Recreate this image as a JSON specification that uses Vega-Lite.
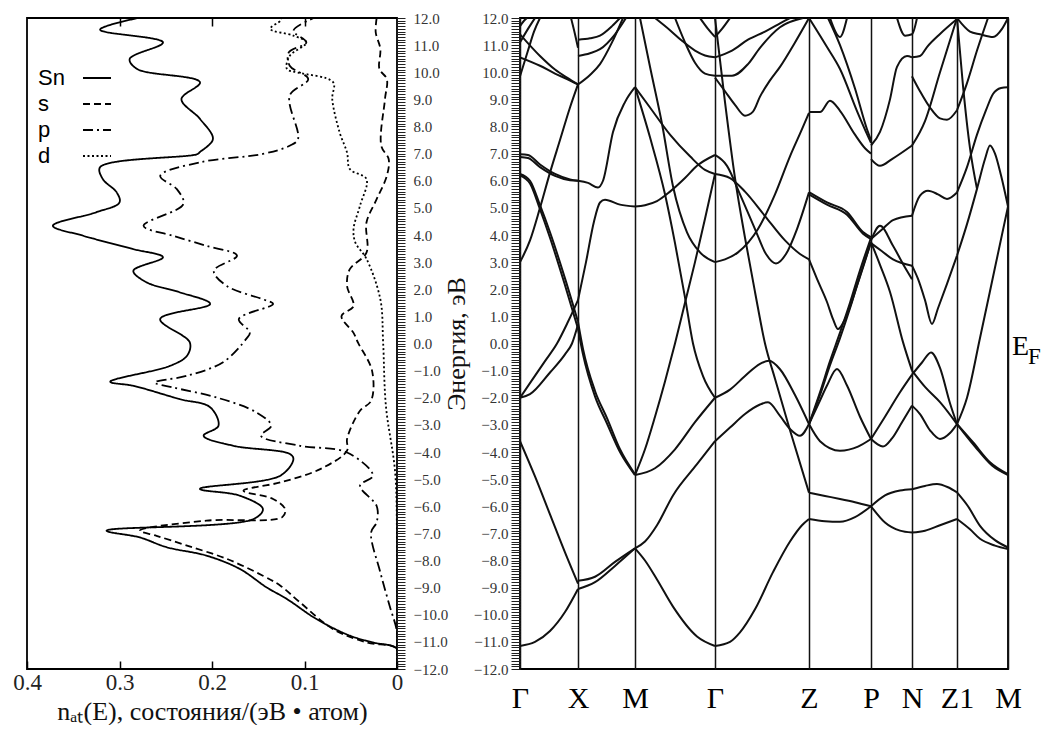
{
"$schema": "https://vega.github.io/schema/vega-lite/v6.json",
"background": "white",
"padding": {"left": 11, "top": 10, "right": 0, "bottom": 0},
"bounds": "flush",
"spacing": 123,
"config": {
  "view": {"stroke": "black", "strokeWidth": 1.8},
  "axis": {"labelFont": "Liberation Serif", "titleFont": "Liberation Serif", "titleFontWeight": "normal", "domain": false, "grid": false, "tickColor": "#222", "labelColor": "#333", "titleColor": "#111", "labelFlush": false, "labelOverlap": false}
},
"datasets": {
"dos": [
{"s":"Sn","E":12.0,"d":0.28},{"s":"Sn","E":11.57,"d":0.321},{"s":"Sn","E":11.1,"d":0.253},{"s":"Sn","E":10.49,"d":0.289},{"s":"Sn","E":10.12,"d":0.281},{"s":"Sn","E":9.63,"d":0.213},{"s":"Sn","E":9.01,"d":0.233},{"s":"Sn","E":8.28,"d":0.213},{"s":"Sn","E":7.54,"d":0.199},{"s":"Sn","E":7.06,"d":0.213},{"s":"Sn","E":6.98,"d":0.216},{"s":"Sn","E":6.5,"d":0.321},{"s":"Sn","E":6.06,"d":0.318},{"s":"Sn","E":5.57,"d":0.303},{"s":"Sn","E":5.2,"d":0.3},{"s":"Sn","E":4.84,"d":0.325},{"s":"Sn","E":4.34,"d":0.372},{"s":"Sn","E":3.97,"d":0.339},{"s":"Sn","E":3.48,"d":0.285},{"s":"Sn","E":3.18,"d":0.253},{"s":"Sn","E":2.68,"d":0.285},{"s":"Sn","E":2.26,"d":0.271},{"s":"Sn","E":1.89,"d":0.235},{"s":"Sn","E":1.46,"d":0.202},{"s":"Sn","E":0.9,"d":0.256},{"s":"Sn","E":0.04,"d":0.224},{"s":"Sn","E":-0.45,"d":0.227},{"s":"Sn","E":-0.82,"d":0.245},{"s":"Sn","E":-1.41,"d":0.31},{"s":"Sn","E":-1.56,"d":0.285},{"s":"Sn","E":-2.05,"d":0.235},{"s":"Sn","E":-2.35,"d":0.202},{"s":"Sn","E":-3.03,"d":0.193},{"s":"Sn","E":-3.4,"d":0.209},{"s":"Sn","E":-3.77,"d":0.177},{"s":"Sn","E":-4.07,"d":0.116},{"s":"Sn","E":-4.26,"d":0.112},{"s":"Sn","E":-4.87,"d":0.126},{"s":"Sn","E":-5.36,"d":0.213},{"s":"Sn","E":-5.61,"d":0.17},{"s":"Sn","E":-6.1,"d":0.145},{"s":"Sn","E":-6.47,"d":0.155},{"s":"Sn","E":-6.9,"d":0.314},{"s":"Sn","E":-7.15,"d":0.278},{"s":"Sn","E":-7.51,"d":0.249},{"s":"Sn","E":-7.82,"d":0.206},{"s":"Sn","E":-8.31,"d":0.17},{"s":"Sn","E":-8.99,"d":0.141},{"s":"Sn","E":-9.42,"d":0.119},{"s":"Sn","E":-10.16,"d":0.087},{"s":"Sn","E":-10.77,"d":0.051},{"s":"Sn","E":-11.02,"d":0.026},{"s":"Sn","E":-11.26,"d":0.0},{"s":"Sn","E":-12.0,"d":0.0},
{"s":"s","E":12.0,"d":0.022},{"s":"s","E":11.47,"d":0.023},{"s":"s","E":10.86,"d":0.018},{"s":"s","E":10.12,"d":0.019},{"s":"s","E":9.75,"d":0.011},{"s":"s","E":9.01,"d":0.013},{"s":"s","E":7.29,"d":0.017},{"s":"s","E":6.8,"d":0.009},{"s":"s","E":6.18,"d":0.011},{"s":"s","E":5.32,"d":0.022},{"s":"s","E":4.46,"d":0.033},{"s":"s","E":3.35,"d":0.033},{"s":"s","E":2.74,"d":0.051},{"s":"s","E":2.12,"d":0.054},{"s":"s","E":1.38,"d":0.047},{"s":"s","E":1.01,"d":0.06},{"s":"s","E":0.39,"d":0.047},{"s":"s","E":0.02,"d":0.042},{"s":"s","E":-1.0,"d":0.027},{"s":"s","E":-2.11,"d":0.028},{"s":"s","E":-2.48,"d":0.04},{"s":"s","E":-3.52,"d":0.054},{"s":"s","E":-3.95,"d":0.054},{"s":"s","E":-4.63,"d":0.083},{"s":"s","E":-5.12,"d":0.126},{"s":"s","E":-5.43,"d":0.166},{"s":"s","E":-5.73,"d":0.134},{"s":"s","E":-6.1,"d":0.121},{"s":"s","E":-6.4,"d":0.124},{"s":"s","E":-6.53,"d":0.206},{"s":"s","E":-6.9,"d":0.278},{"s":"s","E":-7.09,"d":0.26},{"s":"s","E":-7.45,"d":0.227},{"s":"s","E":-7.94,"d":0.184},{"s":"s","E":-8.56,"d":0.145},{"s":"s","E":-8.93,"d":0.126},{"s":"s","E":-9.54,"d":0.105},{"s":"s","E":-10.53,"d":0.069},{"s":"s","E":-11.02,"d":0.033},{"s":"s","E":-11.26,"d":0.0},{"s":"s","E":-12.0,"d":0.0},
{"s":"p","E":12.0,"d":0.09},{"s":"p","E":11.53,"d":0.112},{"s":"p","E":11.1,"d":0.098},{"s":"p","E":10.73,"d":0.117},{"s":"p","E":10.24,"d":0.116},{"s":"p","E":9.75,"d":0.096},{"s":"p","E":9.14,"d":0.116},{"s":"p","E":7.54,"d":0.107},{"s":"p","E":7.29,"d":0.116},{"s":"p","E":6.99,"d":0.145},{"s":"p","E":6.68,"d":0.213},{"s":"p","E":6.18,"d":0.256},{"s":"p","E":5.69,"d":0.238},{"s":"p","E":5.14,"d":0.231},{"s":"p","E":4.34,"d":0.274},{"s":"p","E":3.97,"d":0.242},{"s":"p","E":3.6,"d":0.206},{"s":"p","E":3.24,"d":0.173},{"s":"p","E":2.68,"d":0.198},{"s":"p","E":2.12,"d":0.184},{"s":"p","E":1.63,"d":0.145},{"s":"p","E":1.46,"d":0.134},{"s":"p","E":0.9,"d":0.171},{"s":"p","E":0.41,"d":0.159},{"s":"p","E":0.17,"d":0.163},{"s":"p","E":-0.69,"d":0.188},{"s":"p","E":-1.19,"d":0.227},{"s":"p","E":-1.44,"d":0.262},{"s":"p","E":-1.62,"d":0.242},{"s":"p","E":-1.99,"d":0.195},{"s":"p","E":-2.54,"d":0.152},{"s":"p","E":-3.03,"d":0.136},{"s":"p","E":-3.4,"d":0.147},{"s":"p","E":-3.77,"d":0.105},{"s":"p","E":-4.02,"d":0.054},{"s":"p","E":-4.87,"d":0.026},{"s":"p","E":-5.24,"d":0.04},{"s":"p","E":-5.99,"d":0.022},{"s":"p","E":-6.59,"d":0.022},{"s":"p","E":-6.96,"d":0.028},{"s":"p","E":-8.44,"d":0.018},{"s":"p","E":-9.67,"d":0.008},{"s":"p","E":-10.65,"d":0.0},{"s":"p","E":-12.0,"d":0.0},
{"s":"d","E":12.0,"d":0.125},{"s":"d","E":11.9,"d":0.126},{"s":"d","E":11.6,"d":0.137},{"s":"d","E":11.35,"d":0.112},{"s":"d","E":11.1,"d":0.098},{"s":"d","E":10.6,"d":0.116},{"s":"d","E":10.12,"d":0.119},{"s":"d","E":9.99,"d":0.107},{"s":"d","E":9.63,"d":0.069},{"s":"d","E":9.01,"d":0.07},{"s":"d","E":7.78,"d":0.062},{"s":"d","E":7.04,"d":0.054},{"s":"d","E":6.43,"d":0.051},{"s":"d","E":6.06,"d":0.033},{"s":"d","E":5.08,"d":0.04},{"s":"d","E":4.22,"d":0.047},{"s":"d","E":3.72,"d":0.045},{"s":"d","E":3.12,"d":0.033},{"s":"d","E":1.63,"d":0.018},{"s":"d","E":0.04,"d":0.015},{"s":"d","E":-2.3,"d":0.012},{"s":"d","E":-4.75,"d":0.002},{"s":"d","E":-7.2,"d":0.0},{"s":"d","E":-12.0,"d":0.0}
],
"bands": [
{"b":"g1","u":0,"E":-11.15},{"b":"g1","u":15,"E":-11.0},{"b":"g1","u":30,"E":-10.6},{"b":"g1","u":45,"E":-9.9},{"b":"g1","u":58,"E":-9.05},
{"b":"g2","u":0,"E":-3.6},{"b":"g2","u":15,"E":-4.9},{"b":"g2","u":30,"E":-6.3},{"b":"g2","u":45,"E":-7.7},{"b":"g2","u":58,"E":-8.85},
{"b":"g3","u":0,"E":-2.0},{"b":"g3","u":12,"E":-1.35},{"b":"g3","u":25,"E":-0.65},{"b":"g3","u":37,"E":0.0},{"b":"g3","u":48,"E":0.8},{"b":"g3","u":58,"E":1.6},
{"b":"g4","u":0,"E":-2.0},{"b":"g4","u":10,"E":-1.87},{"b":"g4","u":30,"E":-1.07},{"b":"g4","u":45,"E":-0.4},{"b":"g4","u":52,"E":0.0},{"b":"g4","u":58,"E":0.7},
{"b":"g5a","u":0,"E":6.25},{"b":"g5a","u":10,"E":6.0},{"b":"g5a","u":20,"E":5.1},{"b":"g5a","u":30,"E":4.1},{"b":"g5a","u":45,"E":2.4},{"b":"g5a","u":58,"E":0.8},
{"b":"g5b","u":0,"E":6.2},{"b":"g5b","u":10,"E":5.9},{"b":"g5b","u":20,"E":4.95},{"b":"g5b","u":30,"E":3.9},{"b":"g5b","u":45,"E":2.15},{"b":"g5b","u":58,"E":0.55},
{"b":"g6","u":0,"E":3.0},{"b":"g6","u":10,"E":3.8},{"b":"g6","u":20,"E":5.0},{"b":"g6","u":30,"E":6.3},{"b":"g6","u":40,"E":7.5},{"b":"g6","u":50,"E":8.7},{"b":"g6","u":58,"E":9.55},
{"b":"g7a","u":0,"E":6.98},{"b":"g7a","u":8,"E":6.95},{"b":"g7a","u":20,"E":6.6},{"b":"g7a","u":35,"E":6.25},{"b":"g7a","u":50,"E":6.05},{"b":"g7a","u":58,"E":6.0},
{"b":"g7b","u":0,"E":6.88},{"b":"g7b","u":8,"E":6.84},{"b":"g7b","u":20,"E":6.5},{"b":"g7b","u":35,"E":6.18},{"b":"g7b","u":50,"E":6.02},{"b":"g7b","u":58,"E":6.0},
{"b":"g8","u":0,"E":9.85},{"b":"g8","u":8,"E":10.8},{"b":"g8","u":14,"E":11.5},{"b":"g8","u":20,"E":12.0},
{"b":"g9","u":0,"E":10.55},{"b":"g9","u":20,"E":10.24},{"b":"g9","u":35,"E":9.95},{"b":"g9","u":47,"E":9.75},{"b":"g9","u":58,"E":9.55},
{"b":"g10","u":0,"E":11.4},{"b":"g10","u":20,"E":10.6},{"b":"g10","u":35,"E":10.1},{"b":"g10","u":47,"E":9.8},{"b":"g10","u":58,"E":9.55},
{"b":"g11","u":0,"E":11.1},{"b":"g11","u":8,"E":11.6},{"b":"g11","u":15,"E":12.0},
{"b":"g12","u":0,"E":11.7},{"b":"g12","u":4,"E":11.9},{"b":"g12","u":7,"E":12.0},
{"b":"g13","u":51,"E":12.0},{"b":"g13","u":55,"E":11.4},{"b":"g13","u":58,"E":10.9},
{"b":"x1","u":58,"E":-9.05},{"b":"x1","u":75,"E":-8.8},{"b":"x1","u":95,"E":-8.2},{"b":"x1","u":115,"E":-7.55},
{"b":"x2","u":58,"E":-8.75},{"b":"x2","u":75,"E":-8.6},{"b":"x2","u":95,"E":-8.05},{"b":"x2","u":115,"E":-7.55},
{"b":"x3a","u":58,"E":0.8},{"b":"x3a","u":63,"E":-0.2},{"b":"x3a","u":75,"E":-1.75},{"b":"x3a","u":87,"E":-2.75},{"b":"x3a","u":100,"E":-3.9},{"b":"x3a","u":115,"E":-4.82},
{"b":"x3b","u":58,"E":0.55},{"b":"x3b","u":63,"E":-0.4},{"b":"x3b","u":75,"E":-1.95},{"b":"x3b","u":87,"E":-2.95},{"b":"x3b","u":100,"E":-4.0},{"b":"x3b","u":115,"E":-4.85},
{"b":"x4","u":58,"E":1.6},{"b":"x4","u":66,"E":3.0},{"b":"x4","u":74,"E":4.5},{"b":"x4","u":80,"E":5.2},{"b":"x4","u":85,"E":5.3},{"b":"x4","u":100,"E":5.12},{"b":"x4","u":115,"E":5.05},
{"b":"x5","u":58,"E":6.0},{"b":"x5","u":68,"E":5.92},{"b":"x5","u":78,"E":5.75},{"b":"x5","u":83,"E":6.0},{"b":"x5","u":93,"E":7.8},{"b":"x5","u":105,"E":8.9},{"b":"x5","u":115,"E":9.45},
{"b":"x6","u":58,"E":9.55},{"b":"x6","u":70,"E":9.9},{"b":"x6","u":80,"E":10.3},{"b":"x6","u":92,"E":11.1},{"b":"x6","u":103,"E":12.0},
{"b":"x7","u":58,"E":10.6},{"b":"x7","u":70,"E":10.7},{"b":"x7","u":80,"E":10.85},{"b":"x7","u":95,"E":11.4},{"b":"x7","u":106,"E":12.0},
{"b":"x8","u":58,"E":11.2},{"b":"x8","u":70,"E":11.25},{"b":"x8","u":80,"E":11.35},{"b":"x8","u":92,"E":11.7},{"b":"x8","u":100,"E":12.0},
{"b":"m1","u":115,"E":-7.55},{"b":"m1","u":125,"E":-8.0},{"b":"m1","u":137,"E":-8.7},{"b":"m1","u":153,"E":-9.7},{"b":"m1","u":177,"E":-10.8},{"b":"m1","u":195,"E":-11.15},
{"b":"m2","u":115,"E":-7.55},{"b":"m2","u":125,"E":-7.3},{"b":"m2","u":137,"E":-6.7},{"b":"m2","u":153,"E":-5.6},{"b":"m2","u":177,"E":-4.45},{"b":"m2","u":195,"E":-3.6},
{"b":"m3","u":115,"E":-4.85},{"b":"m3","u":135,"E":-4.6},{"b":"m3","u":155,"E":-3.9},{"b":"m3","u":175,"E":-2.9},{"b":"m3","u":195,"E":-2.0},
{"b":"m4","u":115,"E":-4.85},{"b":"m4","u":125,"E":-3.9},{"b":"m4","u":135,"E":-2.7},{"b":"m4","u":145,"E":-1.4},{"b":"m4","u":155,"E":0.0},{"b":"m4","u":165,"E":1.5},{"b":"m4","u":175,"E":3.0},{"b":"m4","u":185,"E":4.6},{"b":"m4","u":195,"E":6.25},
{"b":"m5","u":115,"E":5.05},{"b":"m5","u":125,"E":5.1},{"b":"m5","u":137,"E":5.25},{"b":"m5","u":150,"E":5.6},{"b":"m5","u":165,"E":6.1},{"b":"m5","u":177,"E":6.55},{"b":"m5","u":195,"E":6.95},
{"b":"m6","u":115,"E":9.45},{"b":"m6","u":130,"E":8.7},{"b":"m6","u":150,"E":7.7},{"b":"m6","u":170,"E":6.9},{"b":"m6","u":185,"E":6.4},{"b":"m6","u":195,"E":6.25},
{"b":"m7","u":120,"E":12.0},{"b":"m7","u":130,"E":10.2},{"b":"m7","u":142,"E":8.1},{"b":"m7","u":153,"E":5.8},{"b":"m7","u":167,"E":4.1},{"b":"m7","u":180,"E":3.36},{"b":"m7","u":195,"E":3.0},
{"b":"m8","u":115,"E":9.45},{"b":"m8","u":130,"E":7.6},{"b":"m8","u":145,"E":5.5},{"b":"m8","u":155,"E":3.7},{"b":"m8","u":165,"E":1.7},{"b":"m8","u":173,"E":0.0},{"b":"m8","u":183,"E":-1.2},{"b":"m8","u":195,"E":-2.0},
{"b":"m10","u":135,"E":12.0},{"b":"m10","u":150,"E":11.55},{"b":"m10","u":162,"E":11.16},{"b":"m10","u":175,"E":10.8},{"b":"m10","u":185,"E":10.62},{"b":"m10","u":195,"E":10.55},
{"b":"m11","u":155,"E":12.0},{"b":"m11","u":165,"E":11.1},{"b":"m11","u":175,"E":10.35},{"b":"m11","u":185,"E":9.95},{"b":"m11","u":195,"E":9.87},
{"b":"m12","u":180,"E":12.0},{"b":"m12","u":188,"E":11.6},{"b":"m12","u":195,"E":11.3},
{"b":"z1","u":195,"E":-11.15},{"b":"z1","u":210,"E":-11.0},{"b":"z1","u":220,"E":-10.65},{"b":"z1","u":235,"E":-9.8},{"b":"z1","u":253,"E":-8.43},{"b":"z1","u":270,"E":-7.3},{"b":"z1","u":282,"E":-6.7},{"b":"z1","u":289,"E":-6.47},
{"b":"z2","u":195,"E":-3.6},{"b":"z2","u":210,"E":-3.1},{"b":"z2","u":225,"E":-2.6},{"b":"z2","u":240,"E":-2.25},{"b":"z2","u":248,"E":-2.17},{"b":"z2","u":260,"E":-2.67},{"b":"z2","u":270,"E":-3.15},{"b":"z2","u":280,"E":-3.4},{"b":"z2","u":289,"E":-2.97},
{"b":"z3","u":195,"E":-2.0},{"b":"z3","u":210,"E":-1.7},{"b":"z3","u":225,"E":-1.2},{"b":"z3","u":240,"E":-0.75},{"b":"z3","u":249,"E":-0.64},{"b":"z3","u":260,"E":-0.95},{"b":"z3","u":275,"E":-1.9},{"b":"z3","u":289,"E":-2.97},
{"b":"z4","u":195,"E":12.0},{"b":"z4","u":205,"E":8.9},{"b":"z4","u":215,"E":6.1},{"b":"z4","u":225,"E":3.9},{"b":"z4","u":235,"E":1.9},{"b":"z4","u":245,"E":0.0},{"b":"z4","u":255,"E":-1.3},{"b":"z4","u":270,"E":-3.2},{"b":"z4","u":289,"E":-5.5},
{"b":"z5","u":195,"E":3.0},{"b":"z5","u":205,"E":3.1},{"b":"z5","u":218,"E":3.36},{"b":"z5","u":238,"E":4.22},{"b":"z5","u":255,"E":5.5},{"b":"z5","u":270,"E":6.9},{"b":"z5","u":282,"E":7.9},{"b":"z5","u":289,"E":8.5},
{"b":"z6","u":195,"E":6.95},{"b":"z6","u":207,"E":6.55},{"b":"z6","u":220,"E":5.5},{"b":"z6","u":235,"E":4.22},{"b":"z6","u":246,"E":3.3},{"b":"z6","u":256,"E":2.95},{"b":"z6","u":266,"E":3.3},{"b":"z6","u":277,"E":4.22},{"b":"z6","u":289,"E":5.57},
{"b":"z7","u":195,"E":6.25},{"b":"z7","u":210,"E":6.1},{"b":"z7","u":225,"E":5.6},{"b":"z7","u":245,"E":4.7},{"b":"z7","u":265,"E":3.8},{"b":"z7","u":280,"E":3.3},{"b":"z7","u":289,"E":3.1},
{"b":"z8","u":195,"E":9.8},{"b":"z8","u":205,"E":9.3},{"b":"z8","u":215,"E":8.8},{"b":"z8","u":225,"E":8.4},{"b":"z8","u":233,"E":8.55},{"b":"z8","u":240,"E":9.1},{"b":"z8","u":250,"E":9.7},{"b":"z8","u":260,"E":10.2},{"b":"z8","u":275,"E":11.1},{"b":"z8","u":289,"E":12.0},
{"b":"z9","u":195,"E":9.87},{"b":"z9","u":212,"E":9.87},{"b":"z9","u":228,"E":10.3},{"b":"z9","u":240,"E":10.9},{"b":"z9","u":260,"E":11.66},{"b":"z9","u":283,"E":12.0},
{"b":"z10","u":195,"E":10.55},{"b":"z10","u":212,"E":10.8},{"b":"z10","u":228,"E":11.2},{"b":"z10","u":245,"E":11.5},{"b":"z10","u":260,"E":11.8},{"b":"z10","u":270,"E":12.0},
{"b":"z11","u":195,"E":11.3},{"b":"z11","u":202,"E":11.6},{"b":"z11","u":210,"E":12.0},
{"b":"p1","u":289,"E":-6.47},{"b":"p1","u":305,"E":-6.55},{"b":"p1","u":320,"E":-6.57},{"b":"p1","u":335,"E":-6.4},{"b":"p1","u":351,"E":-6.0},
{"b":"p2","u":289,"E":-5.5},{"b":"p2","u":305,"E":-5.62},{"b":"p2","u":320,"E":-5.73},{"b":"p2","u":335,"E":-5.85},{"b":"p2","u":351,"E":-6.0},
{"b":"p3","u":289,"E":-2.97},{"b":"p3","u":300,"E":-2.1},{"b":"p3","u":307,"E":-1.55},{"b":"p3","u":317,"E":-0.94},{"b":"p3","u":327,"E":-1.55},{"b":"p3","u":340,"E":-2.7},{"b":"p3","u":351,"E":-3.52},
{"b":"p4","u":289,"E":-2.97},{"b":"p4","u":300,"E":-3.6},{"b":"p4","u":320,"E":-3.95},{"b":"p4","u":338,"E":-3.8},{"b":"p4","u":351,"E":-3.52},
{"b":"p5a","u":289,"E":-2.97},{"b":"p5a","u":300,"E":-1.9},{"b":"p5a","u":310,"E":-0.8},{"b":"p5a","u":320,"E":0.2},{"b":"p5a","u":330,"E":1.3},{"b":"p5a","u":340,"E":2.5},{"b":"p5a","u":351,"E":3.75},
{"b":"p5b","u":289,"E":-2.97},{"b":"p5b","u":300,"E":-1.8},{"b":"p5b","u":310,"E":-0.65},{"b":"p5b","u":320,"E":0.4},{"b":"p5b","u":330,"E":1.5},{"b":"p5b","u":340,"E":2.7},{"b":"p5b","u":351,"E":3.9},
{"b":"p6","u":289,"E":3.1},{"b":"p6","u":297,"E":2.38},{"b":"p6","u":307,"E":1.53},{"b":"p6","u":313,"E":0.9},{"b":"p6","u":318,"E":0.53},{"b":"p6","u":325,"E":0.9},{"b":"p6","u":337,"E":2.13},{"b":"p6","u":351,"E":3.74},
{"b":"p7a","u":289,"E":5.58},{"b":"p7a","u":307,"E":5.2},{"b":"p7a","u":327,"E":4.85},{"b":"p7a","u":343,"E":4.11},{"b":"p7a","u":351,"E":3.92},
{"b":"p7b","u":289,"E":5.5},{"b":"p7b","u":307,"E":5.12},{"b":"p7b","u":327,"E":4.75},{"b":"p7b","u":343,"E":4.05},{"b":"p7b","u":351,"E":3.85},
{"b":"p8","u":289,"E":8.53},{"b":"p8","u":300,"E":8.53},{"b":"p8","u":310,"E":8.95},{"b":"p8","u":320,"E":8.58},{"b":"p8","u":335,"E":7.7},{"b":"p8","u":345,"E":7.2},{"b":"p8","u":351,"E":7.0},
{"b":"p9a","u":289,"E":12.0},{"b":"p9a","u":307,"E":10.93},{"b":"p9a","u":320,"E":10.12},{"b":"p9a","u":337,"E":8.57},{"b":"p9a","u":347,"E":7.72},{"b":"p9a","u":351,"E":7.4},
{"b":"p9b","u":308,"E":12.0},{"b":"p9b","u":320,"E":11.0},{"b":"p9b","u":335,"E":9.4},{"b":"p9b","u":347,"E":7.9},{"b":"p9b","u":351,"E":7.5},
{"b":"p10","u":310,"E":12.0},{"b":"p10","u":320,"E":11.3},{"b":"p10","u":327,"E":12.0},
{"b":"n1","u":351,"E":-6.0},{"b":"n1","u":365,"E":-5.6},{"b":"n1","u":380,"E":-5.42},{"b":"n1","u":392,"E":-5.37},
{"b":"n2","u":351,"E":-6.0},{"b":"n2","u":365,"E":-6.6},{"b":"n2","u":380,"E":-6.9},{"b":"n2","u":392,"E":-6.97},
{"b":"n3","u":351,"E":-3.52},{"b":"n3","u":357,"E":-3.7},{"b":"n3","u":363,"E":-3.8},{"b":"n3","u":372,"E":-3.5},{"b":"n3","u":382,"E":-2.9},{"b":"n3","u":392,"E":-2.29},
{"b":"n4","u":351,"E":-3.52},{"b":"n4","u":365,"E":-2.7},{"b":"n4","u":380,"E":-1.8},{"b":"n4","u":392,"E":-1.15},
{"b":"n5","u":351,"E":3.74},{"b":"n5","u":360,"E":2.9},{"b":"n5","u":370,"E":1.9},{"b":"n5","u":383,"E":0.05},{"b":"n5","u":392,"E":-1.0},
{"b":"n5b","u":392,"E":-1.0},{"b":"n5b","u":405,"E":-1.6},{"b":"n5b","u":420,"E":-2.16},{"b":"n5b","u":437,"E":-2.97},
{"b":"n6","u":392,"E":-1.15},{"b":"n6","u":402,"E":-0.7},{"b":"n6","u":411,"E":-0.33},{"b":"n6","u":420,"E":-0.9},{"b":"n6","u":430,"E":-2.2},{"b":"n6","u":437,"E":-2.97},
{"b":"n7","u":392,"E":-2.29},{"b":"n7","u":400,"E":-2.6},{"b":"n7","u":410,"E":-3.2},{"b":"n7","u":420,"E":-3.52},{"b":"n7","u":430,"E":-3.3},{"b":"n7","u":437,"E":-2.97},
{"b":"q1","u":392,"E":-5.37},{"b":"q1","u":405,"E":-5.25},{"b":"q1","u":417,"E":-5.18},{"b":"q1","u":428,"E":-5.3},{"b":"q1","u":437,"E":-5.49},
{"b":"q2","u":392,"E":-6.97},{"b":"q2","u":405,"E":-6.9},{"b":"q2","u":420,"E":-6.7},{"b":"q2","u":437,"E":-6.47},
{"b":"r1","u":437,"E":-5.49},{"b":"r1","u":448,"E":-6.0},{"b":"r1","u":460,"E":-6.72},{"b":"r1","u":475,"E":-7.25},{"b":"r1","u":488,"E":-7.52},
{"b":"r2","u":437,"E":-6.47},{"b":"r2","u":450,"E":-6.85},{"b":"r2","u":460,"E":-7.2},{"b":"r2","u":475,"E":-7.45},{"b":"r2","u":488,"E":-7.58},
{"b":"r3a","u":437,"E":-2.97},{"b":"r3a","u":453,"E":-3.64},{"b":"r3a","u":470,"E":-4.38},{"b":"r3a","u":488,"E":-4.82},
{"b":"r3b","u":437,"E":-2.97},{"b":"r3b","u":455,"E":-3.8},{"b":"r3b","u":472,"E":-4.5},{"b":"r3b","u":488,"E":-4.85},
{"b":"r4","u":437,"E":-2.97},{"b":"r4","u":447,"E":-2.0},{"b":"r4","u":460,"E":0.2},{"b":"r4","u":475,"E":2.8},{"b":"r4","u":488,"E":5.05},
{"b":"n8","u":351,"E":3.85},{"b":"n8","u":362,"E":4.2},{"b":"n8","u":373,"E":4.55},{"b":"n8","u":392,"E":4.71},
{"b":"q3","u":392,"E":4.71},{"b":"q3","u":400,"E":5.45},{"b":"q3","u":408,"E":5.63},{"b":"q3","u":418,"E":5.5},{"b":"q3","u":427,"E":5.33},{"b":"q3","u":437,"E":5.57},
{"b":"r5","u":437,"E":5.57},{"b":"r5","u":447,"E":6.5},{"b":"r5","u":457,"E":7.7},{"b":"r5","u":466,"E":8.6},{"b":"r5","u":473,"E":9.2},{"b":"r5","u":481,"E":9.42},{"b":"r5","u":488,"E":9.45},
{"b":"n9","u":392,"E":2.87},{"b":"n9","u":398,"E":2.38},{"b":"n9","u":405,"E":1.6},{"b":"n9","u":412,"E":0.72},{"b":"n9","u":418,"E":1.3},{"b":"n9","u":427,"E":2.2},{"b":"n9","u":437,"E":3.24},
{"b":"r6","u":437,"E":3.24},{"b":"r6","u":447,"E":4.4},{"b":"r6","u":457,"E":5.7},{"b":"r6","u":465,"E":6.8},{"b":"r6","u":470,"E":7.3},{"b":"r6","u":475,"E":7.0},{"b":"r6","u":481,"E":6.2},{"b":"r6","u":488,"E":5.05},
{"b":"n10","u":351,"E":3.8},{"b":"n10","u":360,"E":4.34},{"b":"n10","u":373,"E":3.6},{"b":"n10","u":385,"E":2.8},{"b":"n10","u":392,"E":2.37},
{"b":"n11","u":351,"E":3.7},{"b":"n11","u":362,"E":3.4},{"b":"n11","u":373,"E":3.1},{"b":"n11","u":392,"E":2.87},
{"b":"n12","u":351,"E":7.3},{"b":"n12","u":360,"E":7.8},{"b":"n12","u":370,"E":9.0},{"b":"n12","u":377,"E":10.2},{"b":"n12","u":387,"E":10.6},{"b":"n12","u":392,"E":10.55},
{"b":"q4","u":392,"E":10.55},{"b":"q4","u":400,"E":10.6},{"b":"q4","u":407,"E":10.93},{"b":"q4","u":420,"E":11.41},{"b":"q4","u":437,"E":11.96},
{"b":"n13","u":351,"E":6.8},{"b":"n13","u":360,"E":6.55},{"b":"n13","u":372,"E":6.8},{"b":"n13","u":392,"E":7.3},
{"b":"q5","u":392,"E":7.3},{"b":"q5","u":405,"E":8.2},{"b":"q5","u":420,"E":10.0},{"b":"q5","u":437,"E":12.0},
{"b":"n14","u":392,"E":9.85},{"b":"n14","u":400,"E":9.3},{"b":"n14","u":410,"E":8.7},{"b":"n14","u":420,"E":8.3},{"b":"n14","u":427,"E":8.25},{"b":"n14","u":437,"E":8.6},
{"b":"r10","u":437,"E":8.6},{"b":"r10","u":447,"E":9.6},{"b":"r10","u":457,"E":10.8},{"b":"r10","u":468,"E":12.0},
{"b":"n15","u":377,"E":12.0},{"b":"n15","u":385,"E":11.35},{"b":"n15","u":392,"E":11.4},{"b":"n15","u":397,"E":12.0},
{"b":"r7","u":437,"E":12.0},{"b":"r7","u":450,"E":11.5},{"b":"r7","u":460,"E":11.4},{"b":"r7","u":473,"E":11.3},{"b":"r7","u":482,"E":11.6},{"b":"r7","u":488,"E":12.0},
{"b":"r8","u":437,"E":12.0},{"b":"r8","u":443,"E":9.5},{"b":"r8","u":450,"E":7.2},{"b":"r8","u":457,"E":5.7}
]
},
"hconcat": [
{
  "width": 370, "height": 651,
  "resolve": {"axis": {"x": "independent"}},
  "layer": [
    {
      "data": {"name": "dos"},
      "mark": {"type": "line", "color": "black", "strokeWidth": 1.8, "interpolate": "catmull-rom", "clip": true},
      "encoding": {
        "x": {"field": "d", "type": "quantitative", "scale": {"domain": [0, 0.4], "reverse": true, "nice": false, "zero": false},
              "axis": {"orient": "bottom", "offset": -8, "values": [0, 0.1, 0.2, 0.3, 0.4], "labelExpr": "datum.value == 0 ? '0' : format(datum.value, '.1f')", "ticks": true, "tickSize": 8, "tickWidth": 1.5, "tickColor": "black", "tickOpacity": 1, "labelPadding": 2, "labelFontSize": 23, "labelColor": "#222",
                       "title": "nₐₜ(E), состояния/(эВ • атом)", "titleFontSize": 26, "titlePadding": 4, "titleColor": "#111"}},
        "y": {"field": "E", "type": "quantitative", "scale": {"domain": [-12, 12], "nice": false},
              "axis": {"orient": "right", "tickCount": 240, "labelExpr": "abs(datum.value - round(datum.value)) < 0.001 ? format(datum.value, '.1f') : ''", "tickSize": 8, "labelPadding": 8, "labelFontSize": 15, "title": null}},
        "strokeDash": {"field": "s", "type": "nominal", "scale": {"domain": ["Sn", "s", "p", "d"], "range": [[1, 0], [7, 4], [10, 4, 2, 4], [2, 2.5]]},
              "legend": {"orient": "none", "legendX": 55, "legendY": 45, "title": null, "symbolType": "stroke", "symbolSize": 784, "symbolStrokeWidth": 1.8, "symbolStrokeColor": "black", "labelFont": "Liberation Sans", "labelFontSize": 22, "labelColor": "black", "labelOffset": -74, "labelAlign": "left", "rowPadding": -4, "padding": 0}},
        "order": {"field": "E", "type": "quantitative"}
      }
    },
    {
      "mark": {"type": "rule", "color": "#333", "strokeWidth": 1},
      "encoding": {
        "x": {"datum": 0.4, "type": "quantitative", "axis": {"orient": "top", "offset": -8, "values": [0.1, 0.2, 0.3], "labels": false, "ticks": true, "tickSize": 8, "tickWidth": 1.5, "tickColor": "black", "tickOpacity": 1, "title": null}},
        "x2": {"datum": 0},
        "y": {"datum": 0, "type": "quantitative"}
      }
    }
  ]
},
{
  "width": 488, "height": 651,
  "layer": [
    {
      "data": {"name": "bands"},
      "mark": {"type": "line", "color": "#111", "strokeWidth": 2, "interpolate": "monotone", "clip": true},
      "encoding": {
        "x": {"field": "u", "type": "quantitative", "scale": {"domain": [0, 488], "nice": false, "zero": false},
              "axis": {"orient": "bottom", "values": [0, 58, 115, 195, 289, 351, 392, 437, 488], "grid": true, "gridColor": "#111", "gridWidth": 1.5, "gridOpacity": 1, "ticks": false, "labelPadding": 14, "labelFontSize": 30, "labelColor": "black",
                       "labelExpr": "datum.value == 0 ? 'Γ' : datum.value == 58 ? 'X' : datum.value == 115 ? 'M' : datum.value == 195 ? 'Γ' : datum.value == 289 ? 'Z' : datum.value == 351 ? 'P' : datum.value == 392 ? 'N' : datum.value == 437 ? 'Z1' : 'M'", "title": null}},
        "y": {"field": "E", "type": "quantitative", "scale": {"domain": [-12, 12], "nice": false},
              "axis": {"orient": "left", "tickCount": 240, "labelExpr": "abs(datum.value - round(datum.value)) < 0.001 ? format(datum.value, '.1f') : ''", "tickSize": 9, "labelPadding": 3, "labelFontSize": 15,
                       "title": "Энергия, эВ", "titleFontSize": 26, "titlePadding": 4, "titleColor": "#111"}},
        "detail": {"field": "b", "type": "nominal"}
      }
    },
    {
      "mark": {"type": "rule", "color": "#444", "strokeWidth": 1},
      "encoding": {"y": {"datum": 0, "type": "quantitative"}}
    },
    {
      "data": {"values": [{"t": "E", "k": 488, "e0": 0}]},
      "mark": {"type": "text", "font": "Liberation Serif", "fontSize": 28, "align": "left", "baseline": "alphabetic", "dx": 4, "dy": 11, "color": "black", "clip": false},
      "encoding": {"text": {"field": "t", "type": "nominal"}, "x": {"field": "k", "type": "quantitative"}, "y": {"field": "e0", "type": "quantitative"}}
    },
    {
      "data": {"values": [{"t": "F", "k": 488, "e0": 0}]},
      "mark": {"type": "text", "font": "Liberation Serif", "fontSize": 23, "align": "left", "baseline": "alphabetic", "dx": 20, "dy": 20, "color": "black", "clip": false},
      "encoding": {"text": {"field": "t", "type": "nominal"}, "x": {"field": "k", "type": "quantitative"}, "y": {"field": "e0", "type": "quantitative"}}
    }
  ]
}
]
}
